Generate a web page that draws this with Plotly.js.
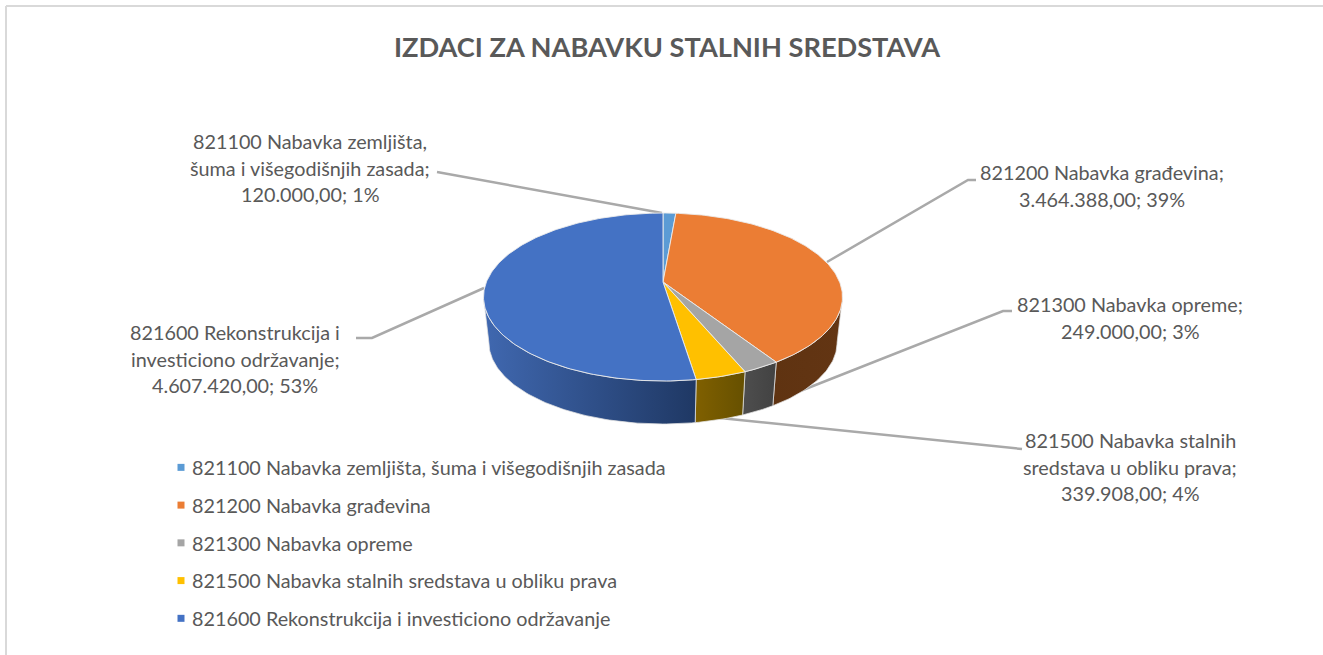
<!DOCTYPE html>
<html>
<head>
<meta charset="utf-8">
<script src="https://cdn.plot.ly/plotly-3.0.1.min.js"></script>
<style>html,body{margin:0;padding:0;background:#fff}#chart{width:1323px;height:655px}</style>
</head>
<body>
<div id="chart"></div>
<script>
// ---- data ----
const titleText = "IZDACI ZA NABAVKU STALNIH SREDSTAVA";
const categories = [
  "821100 Nabavka zemljišta, šuma i višegodišnjih zasada",
  "821200 Nabavka građevina",
  "821300 Nabavka opreme",
  "821500 Nabavka stalnih sredstava u obliku prava",
  "821600 Rekonstrukcija i investiciono održavanje"
];
const values = [120000, 3464388, 249000, 339908, 4607420];
const valueLabels = ["120.000,00", "3.464.388,00", "249.000,00", "339.908,00", "4.607.420,00"];
const percentLabels = ["1%", "39%", "3%", "4%", "53%"];
const labelNameLines = [
  ["821100 Nabavka zemljišta,", "šuma i višegodišnjih zasada;"],
  ["821200 Nabavka građevina;"],
  ["821300 Nabavka opreme;"],
  ["821500 Nabavka stalnih", "sredstava u obliku prava;"],
  ["821600 Rekonstrukcija i", "investiciono održavanje;"]
];
const topColors = ["#5B9BD5", "#EB7D34", "#A5A5A5", "#FFC000", "#4472C4"];
const sideColors = [
  ["#3F6F9C", "#2F5578"],
  ["#5F3311", "#633513"],
  ["#4E4E4E", "#424242"],
  ["#806000", "#665000"],
  ["#4068B0", "#1F3864"]
];

// ---- styling / layout ----
const textColor = "#595959";
const fontFamily = "Lato, 'Open Sans', sans-serif";
const labelSize = 19.8;
// slanted-disc projection (pixel units of the hidden axes)
const cx = 663, topY = 282, botY = 328, k = 0.1786, a = 176.6, b = 81.3, botScale = 0.97;
const labelCentres = [[310, 141], [1102, 172], [1130, 304], [1130, 440], [235, 332]];
const lineGap = 26.5;
const leaders = [
  [[437, 172], [662, 213]],
  [[827, 262], [968, 180], [976, 180]],
  [[775, 401], [1003, 311], [1012, 311]],
  [[720, 418], [1022, 449]],
  [[484, 288], [372, 338], [356, 338]]
];

// ---- geometry from the values ----
const total = values.reduce((s, v) => s + v, 0);
function proj(deg, scale, y0) {
  const t = deg * Math.PI / 180, u = Math.sin(t), v = Math.cos(t), d = 1 + k * v;
  return [cx + scale * a * u / d, y0 - scale * b * v / d];
}
function arc(d1, d2, scale, y0) {
  const n = Math.max(2, Math.ceil(Math.abs(d2 - d1))), pts = [];
  for (let i = 0; i <= n; i++) pts.push(proj(d1 + (d2 - d1) * i / n, scale, y0));
  return pts;
}
const tangent = Math.acos(-k) * 180 / Math.PI;
const visA = tangent, visB = 360 - tangent;
let cum = 0;
const slices = values.map(v => { const s = cum / total * 360; cum += v; return [s, cum / total * 360]; });

const traces = [];
slices.forEach((sl, i) => {
  const d1 = Math.max(sl[0], visA), d2 = Math.min(sl[1], visB);
  if (d2 <= d1) return;
  const pts = arc(d1, d2, 1, topY).concat(arc(d2, d1, botScale, botY));
  pts.push(pts[0]);
  traces.push({
    type: "scatter", mode: "lines", x: pts.map(p => p[0]), y: pts.map(p => p[1]),
    fill: "toself",
    fillgradient: {type: "horizontal", colorscale: [[0, sideColors[i][0]], [1, sideColors[i][1]]]},
    line: {color: "rgba(225,225,225,0.75)", width: 1},
    hoverinfo: "skip", showlegend: false
  });
});
slices.forEach((sl, i) => {
  const pts = [[cx, topY]].concat(arc(sl[0], sl[1], 1, topY));
  pts.push([cx, topY]);
  traces.push({
    type: "scatter", mode: "lines", x: pts.map(p => p[0]), y: pts.map(p => p[1]),
    fill: "toself", fillcolor: topColors[i],
    line: {color: "rgba(235,235,235,0.9)", width: 1},
    name: categories[i], hoverinfo: "name", showlegend: false
  });
});
// legend entries
categories.forEach((c, i) => {
  traces.push({
    type: "scatter", mode: "markers", x: [null], y: [null], name: c, legendgroup: "g" + i,
    marker: {symbol: "square", size: 7, color: topColors[i]}, hoverinfo: "skip"
  });
});

// ---- data labels ----
const annotations = [];
labelNameLines.forEach((lines, i) => {
  const all = lines.slice();
  all.push(valueLabels[i] + "; " + percentLabels[i]);
  all.forEach((txt, j) => annotations.push({
    x: labelCentres[i][0], y: labelCentres[i][1] + j * lineGap, xref: "x", yref: "y",
    text: txt, showarrow: false, xanchor: "center", yanchor: "middle",
    font: {family: fontFamily, size: labelSize, color: textColor}
  }));
});

// ---- leader lines and frame ----
const shapes = leaders.map(l => ({
  type: "path", layer: "below", xref: "x", yref: "y",
  path: l.map((p, i) => (i ? "L" : "M") + p[0] + "," + p[1]).join(" "),
  line: {color: "#A9A9A9", width: 2.5}
}));
shapes.push({type: "line", layer: "below", xref: "x", yref: "y", x0: 6, x1: 1323, y0: 6, y1: 6, line: {color: "#D9D9D9", width: 2}});
shapes.push({type: "line", layer: "below", xref: "x", yref: "y", x0: 6, x1: 6, y0: 6, y1: 655, line: {color: "#D9D9D9", width: 2}});

const hidden = {visible: false, fixedrange: true, showgrid: false, zeroline: false};
const layout = {
  width: 1323, height: 655,
  margin: {l: 0, r: 0, t: 0, b: 0},
  paper_bgcolor: "#fff", plot_bgcolor: "#fff",
  title: {text: titleText, x: 667 / 1323, xanchor: "center", y: 1 - 47 / 655, yanchor: "middle",
          font: {family: fontFamily, size: 27.2, color: textColor, weight: 700}},
  xaxis: Object.assign({range: [0, 1323]}, hidden),
  yaxis: Object.assign({range: [655, 0]}, hidden),
  showlegend: true,
  legend: {x: 152 / 1323, xanchor: "left", y: 1 - 448 / 655, yanchor: "top",
           font: {family: fontFamily, size: labelSize, color: textColor},
           traceorder: "grouped", tracegroupgap: 9, itemclick: false, itemdoubleclick: false,
           itemwidth: 30, bgcolor: "rgba(0,0,0,0)"},
  annotations: annotations,
  shapes: shapes
};
Plotly.newPlot("chart", traces, layout, {displayModeBar: false, responsive: false}).then(() => {
  // the reference keeps its legend swatches close to the text
  document.querySelectorAll("#chart .legend .legendsymbols").forEach(n => n.setAttribute("transform", "translate(9,0)"));
});
</script>
</body>
</html>
